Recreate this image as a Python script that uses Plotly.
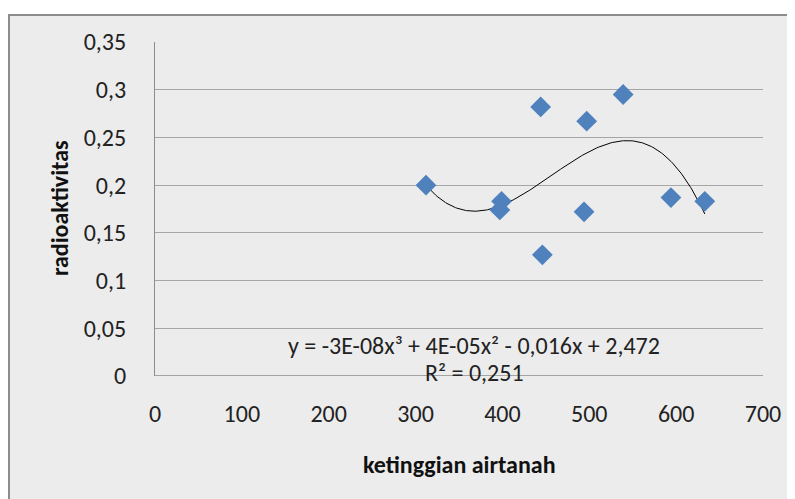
import numpy as np
import plotly.graph_objects as go

# data
ketinggian = [312, 399, 397, 444, 446, 497, 494, 539, 594, 633]
radioaktivitas = [0.200, 0.183, 0.174, 0.282, 0.127, 0.267, 0.172, 0.295, 0.187, 0.183]

y_ticks = [0, 0.05, 0.1, 0.15, 0.2, 0.25, 0.3, 0.35]
y_ticktext = ["0", "0,05", "0,1", "0,15", "0,2", "0,25", "0,3", "0,35"]
x_ticks = [0, 100, 200, 300, 400, 500, 600, 700]

eq_line1 = "y = -3E-08x³ + 4E-05x² - 0,016x + 2,472"
eq_line2 = "R² = 0,251"

FONT = "Carlito, Liberation Sans Narrow, Lato, Open Sans, sans-serif"
OFF = 8  # page body margin

coef = np.polyfit(ketinggian, radioaktivitas, 3)
xs = np.linspace(min(ketinggian), max(ketinggian), 200)
ys = np.polyval(coef, xs)

fig = go.Figure()
fig.add_trace(go.Scatter(x=xs, y=ys, mode="lines",
                         line=dict(color="#000000", width=1), hoverinfo="skip",
                         showlegend=False))
fig.add_trace(go.Scatter(x=ketinggian, y=radioaktivitas, mode="markers",
                         marker=dict(symbol="diamond", size=16, color="#4f81bd",
                                     line=dict(width=0)),
                         showlegend=False))

W, H = 795 - OFF, 499 - OFF
L, T = 155 - OFF, 42 - OFF
pw = 763 - 155
ph = 376 - 42
R = W - L - pw
B = H - T - ph


def px(xp):
    return (xp - 155) / pw


def py(yp):
    return (376 - yp) / ph


fig.update_layout(
    width=W, height=H,
    margin=dict(l=L, r=R, t=T, b=B),
    paper_bgcolor="white",
    plot_bgcolor="#ececec",
    font=dict(family=FONT, size=22, color="#222222"),
    showlegend=False,
    shapes=[dict(type="rect", xref="paper", yref="paper", layer="below",
                 x0=px(9), x1=px(810), y0=py(515), y1=py(15),
                 fillcolor="#ececec", line=dict(color="#8c8c8c", width=2))],
    xaxis=dict(range=[0, 700], tickvals=x_ticks, showgrid=False, zeroline=False,
               showline=False, ticks="", ticklabelstandoff=21,
               tickfont=dict(size=24, family=FONT, color="#222222")),
    yaxis=dict(range=[0, 0.35], tickvals=y_ticks, ticktext=y_ticktext,
               showgrid=True, gridcolor="#a6a6a6", gridwidth=1, zeroline=False,
               showline=True, linecolor="#8c8c8c", linewidth=1, mirror=False,
               ticks="", ticklabelstandoff=23,
               tickfont=dict(size=24, family=FONT, color="#222222")),
    annotations=[
        dict(text=eq_line1, xref="paper", yref="paper", showarrow=False,
             x=px(474), y=py(345), xanchor="center", yanchor="middle",
             font=dict(size=24, family=FONT, color="#222222")),
        dict(text=eq_line2, xref="paper", yref="paper", showarrow=False,
             x=px(474), y=py(372), xanchor="center", yanchor="middle",
             font=dict(size=24, family=FONT, color="#222222")),
        dict(text="<b>radioaktivitas</b>", xref="paper", yref="paper", showarrow=False,
             x=px(59), y=py(208), textangle=-90,
             xanchor="center", yanchor="middle",
             font=dict(size=24, family=FONT, color="#111111")),
        dict(text="<b>ketinggian airtanah</b>", xref="paper", yref="paper", showarrow=False,
             x=px(459), y=py(464),
             xanchor="center", yanchor="middle",
             font=dict(size=24, family=FONT, color="#111111")),
    ],
)
# bottom axis line (y = 0)
fig.add_hline(y=0, line=dict(color="#8c8c8c", width=1.5))

fig.write_html("out.html")
